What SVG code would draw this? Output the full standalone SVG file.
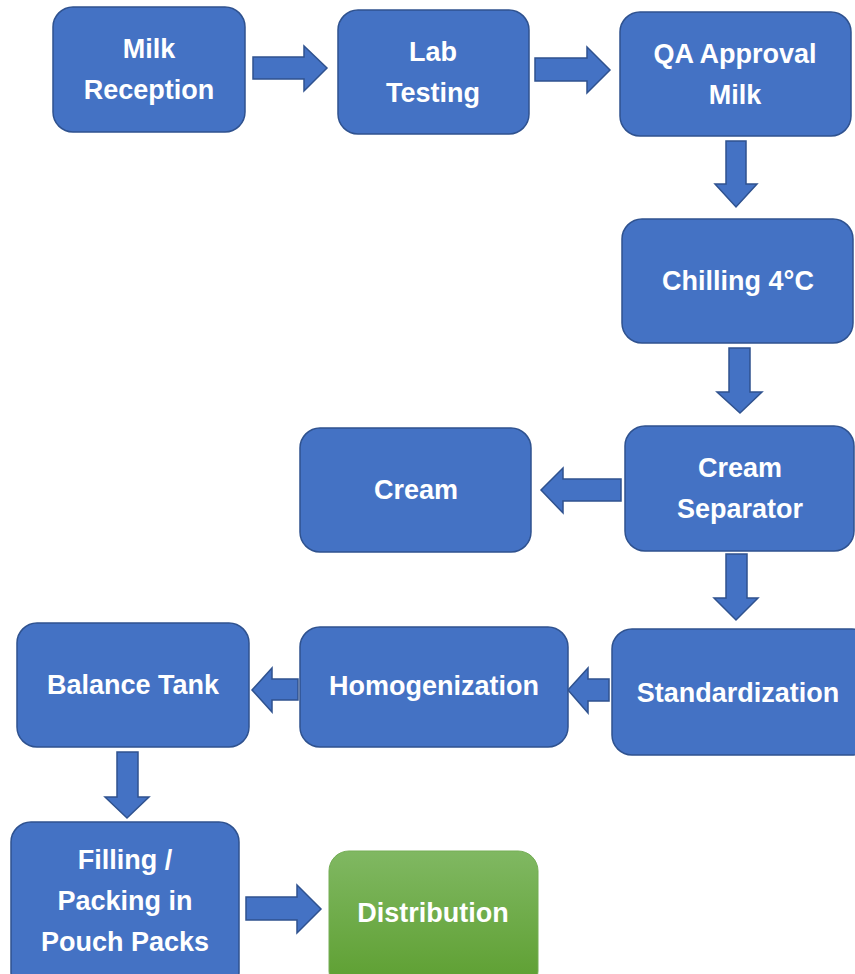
<svg xmlns="http://www.w3.org/2000/svg" width="855" height="974" viewBox="0 0 855 974">
<defs>
<linearGradient id="green" x1="0" y1="0" x2="0" y2="1">
<stop offset="0" stop-color="#80b862"/>
<stop offset="1" stop-color="#5c9e2f"/>
</linearGradient>
<style>
.box{fill:#4472c4;stroke:#2f528f;stroke-width:1.5}
.gbox{fill:url(#green);stroke:#74ad55;stroke-width:1}
.t{font-family:"Liberation Sans",Arial,sans-serif;font-weight:bold;font-size:27px;fill:#ffffff;text-anchor:middle}
.arr{fill:#4472c4;stroke:#2f528f;stroke-width:1.5;stroke-linejoin:miter}
</style>
</defs>
<rect width="855" height="974" fill="#ffffff"/>
<g id="connectors">
<polygon class="arr" points="253,57 304,57 304,46 327,68 304,91 304,79 253,79"/>
<polygon class="arr" points="535,58 587,58 587,47 610,70 587,93 587,81 535,81"/>
<polygon class="arr" points="726,141 746,141 746,184 757,184 736,207 715,184 726,184"/>
<polygon class="arr" points="729,348 750,348 750,392 762,392 740,413 717,392 729,392"/>
<polygon class="arr" points="621,479 563,479 563,468 541,490 563,513 563,501 621,501"/>
<polygon class="arr" points="726,554 747,554 747,598 758,598 736,620 714,598 726,598"/>
<polygon class="arr" points="609,679 588,679 588,668 568,690 588,713 588,701 609,701"/>
<polygon class="arr" points="298,679 272,679 272,668 252,690 272,712 272,700 298,700"/>
<polygon class="arr" points="117,752 138,752 138,797 149,797 127,818 105,797 117,797"/>
<polygon class="arr" points="246,897 297,897 297,885 321,909 297,933 297,920 246,920"/>
</g>
<g id="n-milk-reception">
<rect class="box" x="53" y="7" width="192" height="125" rx="20"/>
<text class="t" x="149" y="58">Milk</text>
<text class="t" x="149" y="99">Reception</text>
</g>
<g id="n-lab-testing">
<rect class="box" x="338" y="10" width="191" height="124" rx="20"/>
<text class="t" x="433" y="61">Lab</text>
<text class="t" x="433" y="102">Testing</text>
</g>
<g id="n-qa-approval">
<rect class="box" x="620" y="12" width="231" height="124" rx="20"/>
<text class="t" x="735" y="63">QA Approval</text>
<text class="t" x="735" y="104">Milk</text>
</g>
<g id="n-chilling">
<rect class="box" x="622" y="219" width="231" height="124" rx="20"/>
<text class="t" x="738" y="290">Chilling 4°C</text>
</g>
<g id="n-cream-separator">
<rect class="box" x="625" y="426" width="229" height="125" rx="20"/>
<text class="t" x="740" y="477">Cream</text>
<text class="t" x="740" y="518">Separator</text>
</g>
<g id="n-cream">
<rect class="box" x="300" y="428" width="231" height="124" rx="20"/>
<text class="t" x="416" y="499">Cream</text>
</g>
<g id="n-standardization">
<rect class="box" x="612" y="629" width="260" height="126" rx="20"/>
<text class="t" x="738" y="702">Standardization</text>
</g>
<g id="n-homogenization">
<rect class="box" x="300" y="627" width="268" height="120" rx="20"/>
<text class="t" x="434" y="695">Homogenization</text>
</g>
<g id="n-balance-tank">
<rect class="box" x="17" y="623" width="232" height="124" rx="20"/>
<text class="t" x="133" y="694">Balance Tank</text>
</g>
<g id="n-filling">
<rect class="box" x="11" y="822" width="228" height="170" rx="20"/>
<text class="t" x="125" y="869">Filling /</text>
<text class="t" x="125" y="910">Packing in</text>
<text class="t" x="125" y="951">Pouch Packs</text>
</g>
<g id="n-distribution">
<rect class="gbox" x="329" y="851" width="209" height="140" rx="20"/>
<text class="t" x="433" y="922">Distribution</text>
</g>
</svg>
